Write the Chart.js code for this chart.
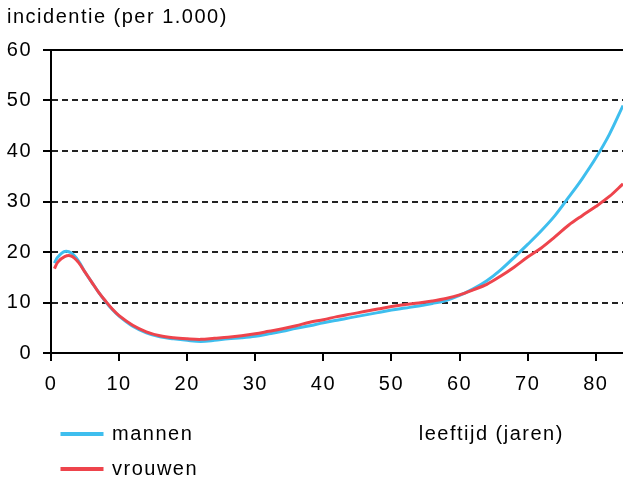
<!DOCTYPE html>
<html>
<head>
<meta charset="utf-8">
<script src="https://cdn.jsdelivr.net/npm/chart.js@4/dist/chart.umd.min.js"></script>
<style>
  html, body { margin: 0; padding: 0; background: #fff; }
  #wrap { width: 623px; height: 484px; }
</style>
</head>
<body>
<div id="wrap"><canvas id="c" width="623" height="484"></canvas></div>
<script>
const titleText = 'incidentie (per 1.000)';
const xAxisTitle = 'leeftijd (jaren)';
const seriesNames = ['mannen', 'vrouwen'];
const ages = [0.5,1,2,3,4,5,6,7,8,9,10,12,14,16,18,20,22,24,26,28,30,32,34,36,38,40,42,44,46,48,50,52,54,56,58,60,62,64,66,68,70,72,74,76,78,80,82,84];
const mannen = [17.8,19.0,20.1,19.8,18.3,16.0,14.0,12.0,10.2,8.6,7.3,5.3,4.0,3.2,2.8,2.5,2.3,2.5,2.8,3.0,3.3,3.8,4.3,4.9,5.4,6.0,6.5,7.0,7.5,8.0,8.5,8.9,9.3,9.8,10.4,11.4,12.7,14.3,16.4,18.9,21.5,24.2,27.2,30.8,34.5,38.6,43.3,49.0];
const vrouwen = [16.7,18.0,19.1,19.2,18.0,16.0,14.0,12.0,10.3,8.7,7.4,5.5,4.2,3.4,3.0,2.8,2.7,2.9,3.1,3.4,3.8,4.3,4.8,5.4,6.1,6.6,7.2,7.7,8.2,8.7,9.2,9.6,9.9,10.3,10.8,11.5,12.5,13.6,15.2,17.0,19.0,20.8,23.0,25.3,27.2,29.0,31.0,33.5];
const xTicks = [0,10,20,30,40,50,60,70,80];
const yTicks = [0,10,20,30,40,50,60];
const xMax = 84;
const yMax = 60;

const FONT = 'Liberation Sans';
const SPACING = '1.5px';
const BLUE = 'rgb(62,190,238)';
const RED = 'rgb(238,68,76)';
const TXT = '#000';
const LEGEND_W = 250;

const spacingPlugin = {
  id: 'spacing',
  beforeLayout(chart) {
    chart.ctx.letterSpacing = SPACING;
    const lg = chart.legend;
    if (lg && !lg._wrapPatched) {
      const origFit = lg.fit;
      lg.fit = function () { this.maxWidth = Math.min(this.maxWidth, LEGEND_W); return origFit.call(this); };
      lg._wrapPatched = true;
    }
  },
  afterLayout(chart) {
    const lg = chart.legend;
    if (lg) {
      lg.left += 40; lg.right = lg.left + LEGEND_W; lg.width = LEGEND_W;
      lg.top += 13; lg.bottom += 13;
    }
  },
  beforeDraw(chart) { chart.ctx.letterSpacing = SPACING; },
  afterDraw(chart) {
    const ctx = chart.ctx;
    const lg = chart.legend;
    const xs = chart.scales.x;
    ctx.save();
    ctx.letterSpacing = SPACING;
    ctx.font = '20px "' + FONT + '"';
    ctx.fillStyle = TXT;
    ctx.textAlign = 'left';
    ctx.textBaseline = 'middle';
    ctx.fillText(xAxisTitle, xs.getPixelForValue(54), lg.top + lg.options.labels.padding + 10);
    ctx.restore();
  }
};

const toPts = (vals) => ages.map((a, i) => ({ x: a, y: vals[i] }));

new Chart(document.getElementById('c'), {
  type: 'line',
  data: {
    datasets: [
      { label: seriesNames[1], data: toPts(vrouwen), borderColor: RED, backgroundColor: RED, borderWidth: 3, pointRadius: 0, tension: 0.35, fill: false },
      { label: seriesNames[0], data: toPts(mannen), borderColor: BLUE, backgroundColor: BLUE, borderWidth: 3, pointRadius: 0, tension: 0.35, fill: false }
    ]
  },
  options: {
    responsive: false,
    animation: false,
    devicePixelRatio: 1,
    layout: { padding: { left: 7, right: 0, top: 0, bottom: 8 } },
    font: { family: FONT, size: 20 },
    plugins: {
      tooltip: { enabled: false },
      title: {
        display: true, text: titleText, align: 'start', color: TXT,
        font: { family: FONT, size: 20, weight: 'normal' },
        padding: { top: 5, bottom: 21 }
      },
      legend: {
        position: 'bottom', align: 'start',
        labels: {
          color: TXT, font: { family: FONT, size: 20 },
          boxWidth: 40, boxHeight: 1, padding: 15,
          sort: (a, b) => b.datasetIndex - a.datasetIndex
        }
      }
    },
    scales: {
      x: {
        type: 'linear', min: 0, max: xMax,
        afterBuildTicks: (s) => { s.ticks = xTicks.map(v => ({ value: v })); },
        afterFit: (s) => { s.height = 43; },
        grid: { drawOnChartArea: false, drawTicks: true, tickLength: 8, color: '#000', tickColor: '#000', tickWidth: 2, lineWidth: 2 },
        border: { display: true, color: '#000', width: 2 },
        ticks: { color: TXT, font: { family: FONT, size: 20 }, padding: 11, maxRotation: 0, autoSkip: false }
      },
      y: {
        type: 'linear', min: 0, max: yMax,
        afterBuildTicks: (s) => { s.ticks = yTicks.map(v => ({ value: v })); },
        afterFit: (s) => { s.width = 44; },
        grid: {
          drawTicks: true, tickLength: 8,
          color: (c) => (c.tick && c.tick.value === yMax) ? '#000' : '#222',
          lineWidth: 2, tickColor: '#000', tickWidth: 2
        },
        border: { display: true, color: '#000', width: 2, dash: (c) => (c.tick && c.tick.value === yMax) ? [] : [6, 4] },
        ticks: { color: TXT, font: { family: FONT, size: 20 }, padding: 11 }
      }
    }
  },
  plugins: [spacingPlugin]
});
</script>
</body>
</html>
